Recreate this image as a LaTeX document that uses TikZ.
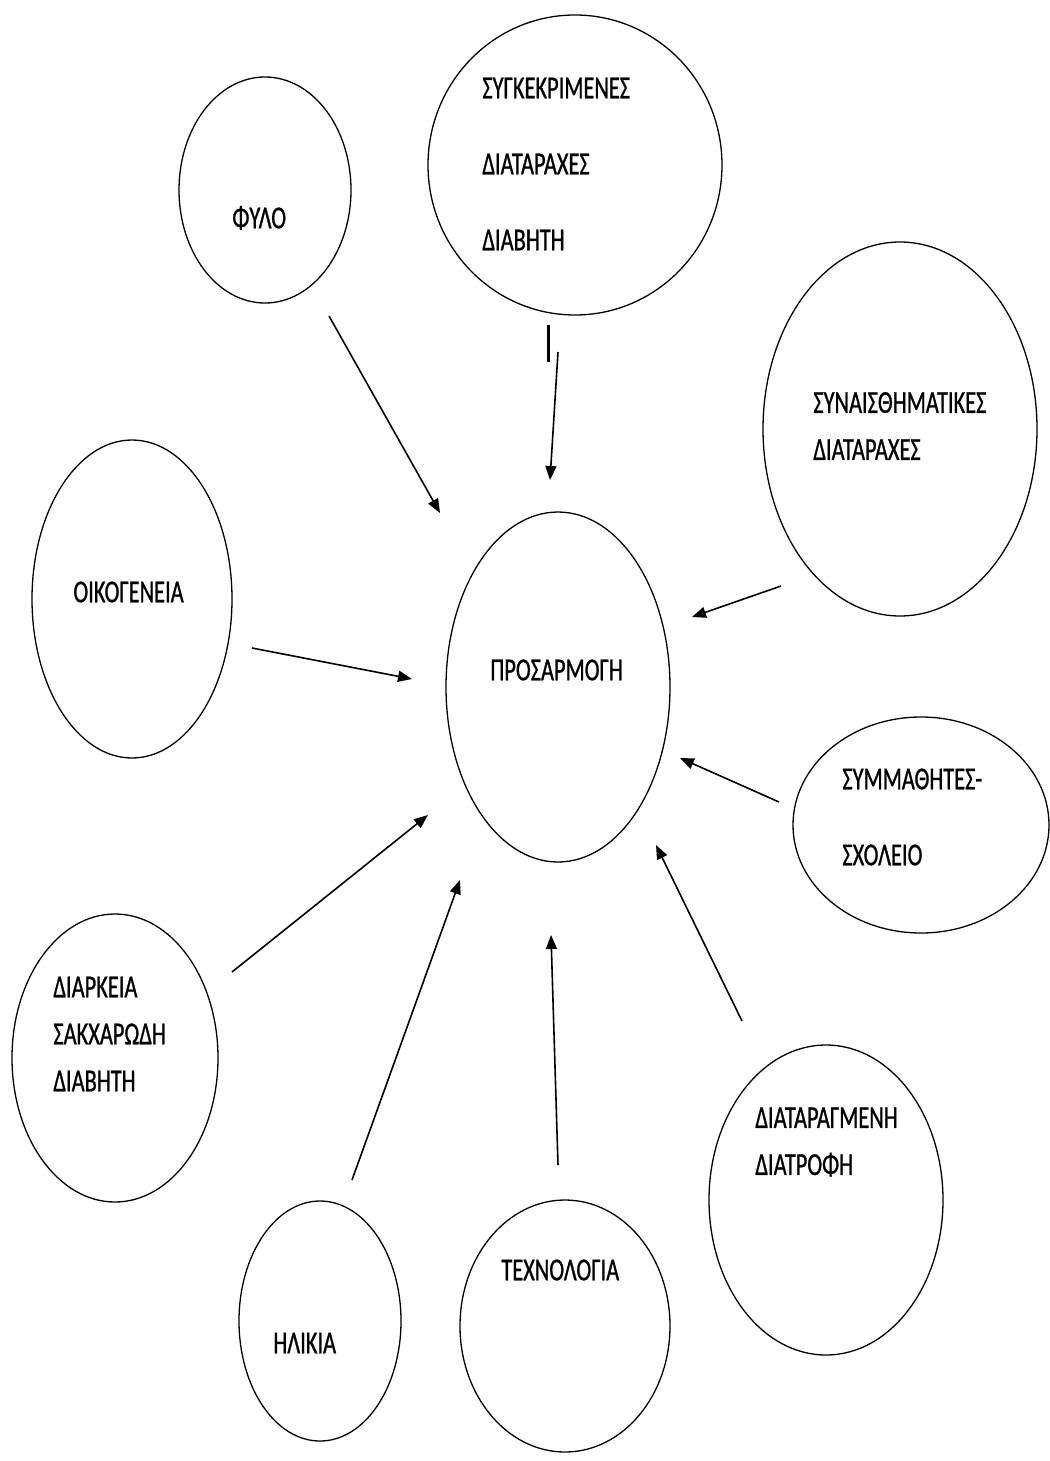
\documentclass[tikz,border=0pt]{standalone}
\usepackage{fontspec}
\setmainfont{Carlito}[FakeStretch=0.7,FakeBold=0.8]
\usetikzlibrary{shapes.geometric,arrows.meta}

\begin{document}
\begin{tikzpicture}[x=0.5pt,y=-0.5pt,
  bubble/.style={draw, ellipse, line width=0.65pt, inner sep=0pt},
  lbl/.style={anchor=west, align=left, inner sep=0pt},
  wide/.style={font=\fontsize{16}{38}\selectfont},
  tight/.style={font=\fontsize{16}{23.5}\selectfont},
  arr/.style={draw, line width=0.8pt, -{Triangle[length=7pt,width=5.5pt]}}]
\useasboundingbox (0,0) rectangle (1049,1461);

% bubbles
\node[bubble, minimum width=86pt, minimum height=113pt] (fylo) at (265,190) {};
\node[bubble, minimum width=147pt, minimum height=150pt] (diatar) at (575,165) {};
\node[bubble, minimum width=137pt, minimum height=187pt] (synais) at (900,429) {};
\node[bubble, minimum width=100pt, minimum height=159pt] (oikog) at (132,599) {};
\node[bubble, minimum width=112pt, minimum height=175pt] (prosarm) at (558,687) {};
\node[bubble, minimum width=128pt, minimum height=108pt] (symm) at (921,825) {};
\node[bubble, minimum width=103pt, minimum height=144pt] (diark) at (115,1058) {};
\node[bubble, minimum width=117pt, minimum height=155pt] (diatr) at (826,1200) {};
\node[bubble, minimum width=81pt, minimum height=120pt] (ilik) at (320,1321) {};
\node[bubble, minimum width=105pt, minimum height=126pt] (techn) at (565,1326) {};

% labels
\node[lbl, tight] (fylo-t) at (232,218) {ΦΥΛΟ};
\node[lbl, wide] (diatar-t) at (482,164) {ΣΥΓΚΕΚΡΙΜΕΝΕΣ\\ΔΙΑΤΑΡΑΧΕΣ\\ΔΙΑΒΗΤΗ};
\node[lbl, tight] (synais-t) at (813,426) {ΣΥΝΑΙΣΘΗΜΑΤΙΚΕΣ\\ΔΙΑΤΑΡΑΧΕΣ};
\node[lbl, tight] (oikog-t) at (73,592) {ΟΙΚΟΓΕΝΕΙΑ};
\node[lbl, tight] (prosarm-t) at (490,670) {ΠΡΟΣΑΡΜΟΓΗ};
\node[lbl, wide] (symm-t) at (842,817) {ΣΥΜΜΑΘΗΤΕΣ-\\ΣΧΟΛΕΙΟ};
\node[lbl, tight] (diark-t) at (53,1034) {ΔΙΑΡΚΕΙΑ\\ΣΑΚΧΑΡΩΔΗ\\ΔΙΑΒΗΤΗ};
\node[lbl, tight] (diatr-t) at (755,1142) {ΔΙΑΤΑΡΑΓΜΕΝΗ\\ΔΙΑΤΡΟΦΗ};
\node[lbl, tight] (ilik-t) at (273,1343) {ΗΛΙΚΙΑ};
\node[lbl, tight] (techn-t) at (501,1270) {ΤΕΧΝΟΛΟΓΙΑ};

% arrow ends
\coordinate (fylo-a) at (329,316);   \coordinate (fylo-b) at (440,513);
\coordinate (diatar-a) at (558,352); \coordinate (diatar-b) at (550,480);
\coordinate (synais-a) at (781,586); \coordinate (synais-b) at (692,617);
\coordinate (oikog-a) at (252,648);  \coordinate (oikog-b) at (412,679);
\coordinate (symm-a) at (779,802);   \coordinate (symm-b) at (680,758);
\coordinate (diark-a) at (232,972);  \coordinate (diark-b) at (428,815);
\coordinate (ilik-a) at (352,1180);  \coordinate (ilik-b) at (460,880);
\coordinate (techn-a) at (558,1165); \coordinate (techn-b) at (551,935);
\coordinate (diatr-a) at (742,1021); \coordinate (diatr-b) at (656,845);
\coordinate (bar-a) at (548,325);    \coordinate (bar-b) at (548,362);

\path[arr] (fylo-a) -- (fylo-b);
\path[arr] (diatar-a) -- (diatar-b);
\path[arr] (synais-a) -- (synais-b);
\path[arr] (oikog-a) -- (oikog-b);
\path[arr] (symm-a) -- (symm-b);
\path[arr] (diark-a) -- (diark-b);
\path[arr] (ilik-a) -- (ilik-b);
\path[arr] (techn-a) -- (techn-b);
\path[arr] (diatr-a) -- (diatr-b);
\path[draw, line width=1.5pt] (bar-a) -- (bar-b);
\end{tikzpicture}
\end{document}
